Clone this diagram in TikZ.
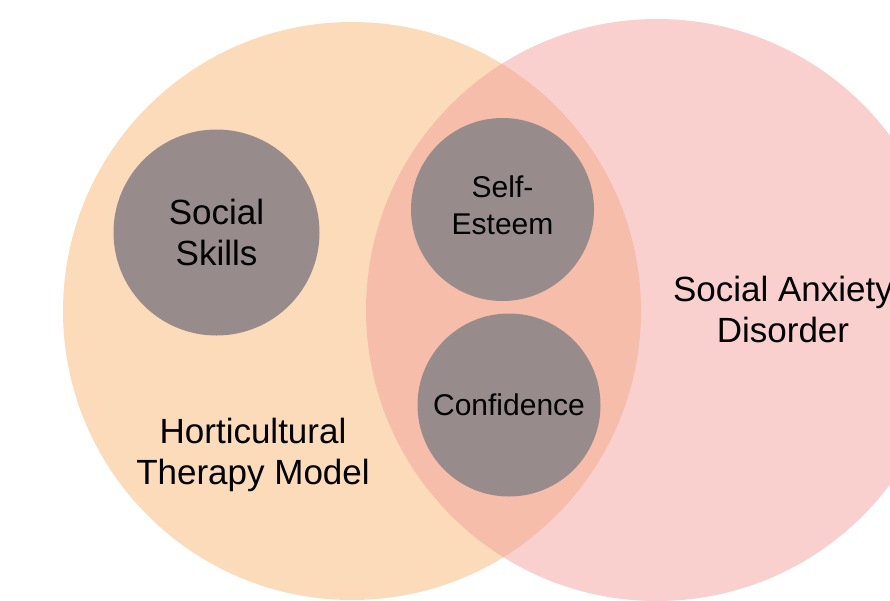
\documentclass[tikz,border=0pt]{standalone}
\usepackage{fontspec}
\setmainfont{Liberation Sans}
\begin{document}
\begin{tikzpicture}[x=1pt,y=-1pt,
  setcircle/.style={circle,draw=none,inner sep=0pt,minimum size=#1},
  topic/.style={circle,draw=none,fill=topicgray,inner sep=0pt,minimum size=#1,
    align=center,text=black},
  biglabel/.style={align=center,text=black,inner sep=0pt,
    font=\fontsize{35}{41}\selectfont},
  smalllabel/.style={align=center,text=black,inner sep=0pt,
    font=\fontsize{30}{37}\selectfont}]
  \definecolor{htorange}{RGB}{251,219,186}
  \definecolor{sadpink}{RGB}{243,161,157}
  \definecolor{topicgray}{RGB}{151,139,139}
  \useasboundingbox (0,0) rectangle (890,600);
  % the two sets
  \node[setcircle=578,fill=htorange] (hort) at (352,311) {};
  \node[setcircle=582,fill=sadpink,fill opacity=0.5] (sad) at (657,310) {};
  % topics inside the sets
  \node[topic=206,biglabel] (skills) at (216.5,232.5) {Social\\Skills};
  \node[topic=183,label={[smalllabel,name=esteemtext,yshift=4pt]center:Self-\\Esteem}]
    (esteem) at (502.5,209.5) {};
  \node[topic=183,smalllabel] (conf) at (509,405) {Confidence};
  % set labels
  \node[biglabel] (hortlabel) at (253,454.5) {Horticultural\\Therapy Model};
  \node[biglabel] (sadlabel) at (783,309.5) {Social Anxiety\\Disorder};
\end{tikzpicture}
\end{document}
